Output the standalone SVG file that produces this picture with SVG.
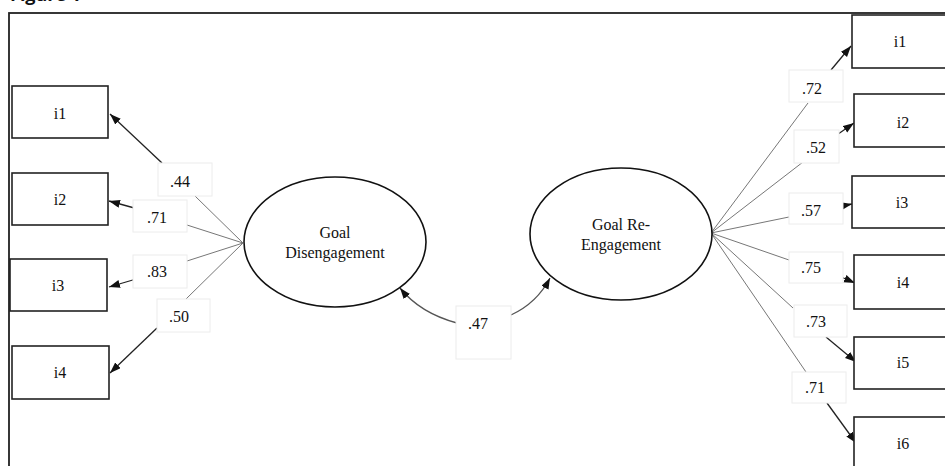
<svg xmlns="http://www.w3.org/2000/svg" width="945" height="466" viewBox="0 0 945 466">
<defs>
<marker id="arr" markerUnits="userSpaceOnUse" markerWidth="12" markerHeight="10" refX="11" refY="4" orient="auto">
<path d="M0,0 L11,4 L0,8 Z" fill="#111"/>
</marker>
<style>
.box{fill:#fff;stroke:#222;stroke-width:1.6}
.lat{fill:#fff;stroke:#111;stroke-width:1.6}
.lbl{fill:#fff;stroke:#ececec;stroke-width:1}
.t{font-family:"Liberation Serif","Times New Roman",serif;font-size:16px;fill:#111}
.m{text-anchor:middle}
.g{stroke:#777;stroke-width:1;fill:none}
.a{stroke:#222;stroke-width:1.3;fill:none;marker-end:url(#arr)}
</style>
</defs>
<rect width="945" height="466" fill="#fff"/>
<text x="10" y="1" style="font-family:'Open Sans',sans-serif;font-weight:bold;font-size:18px;fill:#111">Figure 1</text>
<rect x="9" y="13" width="1000" height="500" fill="none" stroke="#222" stroke-width="1.8"/>

<g id="connectors">
<path class="g" d="M243,243 L195,196"/>
<path class="a" d="M162,163 L110,114"/>
<path class="g" d="M243,243 L187,225"/>
<path class="a" d="M138,209 L109,201"/>
<path class="g" d="M243,243 L187,261"/>
<path class="a" d="M143,277 L109,287"/>
<path class="g" d="M243,243 L186,299"/>
<path class="a" d="M157,328 L110,373"/>

<path class="g" d="M711,233 L808,103"/>
<path class="a" d="M831,70 L851,46"/>
<path class="g" d="M711,233 L803,162"/>
<path class="a" d="M831,139 L854,123"/>
<path class="g" d="M711,233 L789,217"/>
<path class="a" d="M827,209 L852,204"/>
<path class="g" d="M711,233 L789,260"/>
<path class="a" d="M827,271 L855,283"/>
<path class="g" d="M711,233 L793,308"/>
<path class="a" d="M826,337 L856,362"/>
<path class="g" d="M711,233 L806,372"/>
<path class="a" d="M827,403 L856,443"/>

<path class="a" d="M457,323 Q420,313 400,288" style="stroke:#555"/>
<path class="a" d="M511,315 Q537,303 550,278" style="stroke:#555"/>
</g>

<g id="labels">
<rect class="lbl" x="158" y="163" width="54" height="33"/><text class="t" x="170" y="187">.44</text>
<rect class="lbl" x="133" y="200" width="54" height="32"/><text class="t" x="147" y="223">.71</text>
<rect class="lbl" x="133" y="255" width="54" height="33"/><text class="t" x="147" y="277">.83</text>
<rect class="lbl" x="157" y="299" width="53" height="33"/><text class="t" x="169" y="322">.50</text>

<rect class="lbl" x="789" y="70" width="54" height="32"/><text class="t" x="802" y="94">.72</text>
<rect class="lbl" x="794" y="130" width="45" height="33"/><text class="t" x="806" y="153">.52</text>
<rect class="lbl" x="789" y="193" width="54" height="31"/><text class="t" x="801" y="216">.57</text>
<rect class="lbl" x="789" y="252" width="54" height="31"/><text class="t" x="801" y="273">.75</text>
<rect class="lbl" x="794" y="305" width="53" height="32"/><text class="t" x="806" y="327">.73</text>
<rect class="lbl" x="792" y="372" width="54" height="31"/><text class="t" x="805" y="393">.71</text>

<rect class="lbl" x="456" y="306" width="55" height="53"/><text class="t" x="468" y="329">.47</text>
</g>

<g id="GD">
<ellipse class="lat" cx="335" cy="242" rx="91" ry="65"/>
<text class="t m" x="335" y="238">Goal</text>
<text class="t m" x="335" y="258">Disengagement</text>
</g>
<g id="GR">
<ellipse class="lat" cx="621" cy="234" rx="91" ry="66"/>
<text class="t m" x="621" y="230">Goal Re-</text>
<text class="t m" x="621" y="250">Engagement</text>
</g>

<g id="L1"><rect class="box" x="12" y="86" width="96" height="52"/><text class="t m" x="60" y="119">i1</text></g>
<g id="L2"><rect class="box" x="12" y="173" width="96" height="52"/><text class="t m" x="60" y="205">i2</text></g>
<g id="L3"><rect class="box" x="10" y="259" width="97" height="52"/><text class="t m" x="58" y="291">i3</text></g>
<g id="L4"><rect class="box" x="12" y="346" width="97" height="53"/><text class="t m" x="60" y="378">i4</text></g>

<g id="R1"><rect class="box" x="852" y="15" width="120" height="53"/><text class="t m" x="900" y="47">i1</text></g>
<g id="R2"><rect class="box" x="854" y="94" width="120" height="53"/><text class="t m" x="903" y="128">i2</text></g>
<g id="R3"><rect class="box" x="852" y="176" width="120" height="52"/><text class="t m" x="902" y="208">i3</text></g>
<g id="R4"><rect class="box" x="854" y="255" width="120" height="54"/><text class="t m" x="903" y="288">i4</text></g>
<g id="R5"><rect class="box" x="854" y="337" width="120" height="52"/><text class="t m" x="903" y="368">i5</text></g>
<g id="R6"><rect class="box" x="854" y="417" width="120" height="80"/><text class="t m" x="903" y="449">i6</text></g>
</svg>
